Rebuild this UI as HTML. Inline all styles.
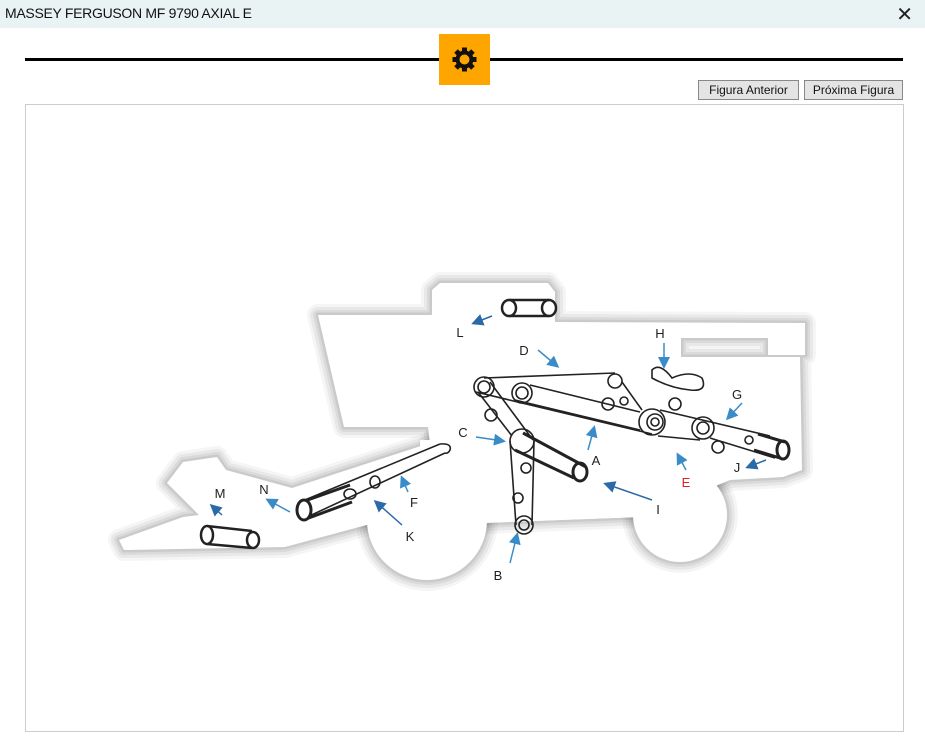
<!DOCTYPE html>
<html><head><style>
body{margin:0;width:925px;height:752px;background:#fff;font-family:"Liberation Sans",sans-serif;position:relative;overflow:hidden}
.tb{position:absolute;left:0;top:0;width:925px;height:28px;background:#eaf3f3}
.tt{position:absolute;left:5px;top:5px;font-size:14px;color:#111;letter-spacing:-0.3px}
.x{position:absolute;right:12px;top:2px;font-size:20px;color:#222}
.ln{position:absolute;left:25px;top:58px;width:878px;height:3px;background:#000}
.og{position:absolute;left:439px;top:34px;width:51px;height:51px;background:#ffa500}
.btn{position:absolute;top:80px;height:18px;border:1px solid #888;background:#e4e4e4;font-size:12px;line-height:18px;text-align:center;color:#111}
.fr{position:absolute;left:25px;top:104px;width:877px;height:626px;border:1px solid #ccc}
svg{position:absolute;left:0;top:0}
</style></head><body>
<div class="tb"><div class="tt">MASSEY FERGUSON MF 9790 AXIAL E</div><div class="x">✕</div></div>
<div class="ln"></div>
<div class="og"><svg width="51" height="51" viewBox="0 0 51 51"><g transform="translate(25.5,25.5)" fill="#111"><g id="t"><rect x="-2.5" y="-12" width="5" height="5"/></g><use href="#t" transform="rotate(45)"/><use href="#t" transform="rotate(90)"/><use href="#t" transform="rotate(135)"/><use href="#t" transform="rotate(180)"/><use href="#t" transform="rotate(225)"/><use href="#t" transform="rotate(270)"/><use href="#t" transform="rotate(315)"/><circle r="9"/><circle r="5" fill="#ffa500"/></g></svg></div>
<div class="btn" style="left:698px;width:99px">Figura Anterior</div>
<div class="btn" style="left:804px;width:97px">Próxima Figura</div>
<div class="fr"></div>
<svg width="925" height="752">
<defs>
<g id="sil">
<polygon points="318,315 432,315 432,290 440,283 548,283 555,292 555,322 805,323 805,355 768,355 768,338 681,338 681,357 800,357 802,470 783,477 730,480 640,517 483,523 430,443 428,427 344,427"/>
<circle cx="427" cy="520" r="60"/>
<circle cx="680" cy="515" r="47"/>
<polygon points="183,462 217,457 226,470 292,488 430,443 440,455 374,523 285,547 124,550 119,540 183,517 199,515 167,483"/>
</g>
<marker id="ar" markerWidth="8" markerHeight="8" refX="6" refY="4" orient="auto"><path d="M0,0 L8,4 L0,8 Z" fill="#3a8cc8"/></marker>
<marker id="ad" markerWidth="8" markerHeight="8" refX="6" refY="4" orient="auto"><path d="M0,0 L8,4 L0,8 Z" fill="#2a6aa8"/></marker></defs>
<g fill="none" stroke="#000" stroke-linejoin="round">
<use href="#sil" stroke-width="22" stroke-opacity="0.04"/>
<use href="#sil" stroke-width="16" stroke-opacity="0.05"/>
<use href="#sil" stroke-width="10" stroke-opacity="0.06"/>
<use href="#sil" stroke-width="5" stroke-opacity="0.07"/>
</g>
<use href="#sil" fill="#fff"/>
<polygon points="420,440 640,440 640,517 483,523 420,470" fill="#fff"/>
<g fill="none" stroke="#222" stroke-width="1.6">
<line x1="509" y1="300" x2="549" y2="300" stroke-width="2.5"/><line x1="509" y1="316" x2="549" y2="316" stroke-width="2.5"/>
<ellipse cx="509" cy="308" rx="7" ry="8" fill="#fff" stroke-width="2.5"/><ellipse cx="549" cy="308" rx="7" ry="8" stroke-width="2.5"/>
<line x1="484" y1="378" x2="615" y2="373"/><line x1="476" y1="392" x2="652" y2="434"/>
<line x1="515" y1="400" x2="640" y2="430"/><line x1="530" y1="385" x2="640" y2="412"/>
<line x1="622" y1="382" x2="642" y2="410"/>
<circle cx="484" cy="387" r="10"/><circle cx="484" cy="387" r="6"/>
<circle cx="522" cy="393" r="10"/><circle cx="522" cy="393" r="6"/>
<circle cx="615" cy="381" r="7"/><circle cx="608" cy="404" r="6"/><circle cx="624" cy="401" r="4"/>
<circle cx="652" cy="422" r="13"/><circle cx="655" cy="422" r="8"/><circle cx="655" cy="422" r="4"/>
<circle cx="703" cy="428" r="11"/><circle cx="703" cy="428" r="6"/>
<line x1="660" y1="410" x2="770" y2="436"/><line x1="658" y1="436" x2="700" y2="440"/><line x1="710" y1="438" x2="775" y2="458"/>
<line x1="758" y1="434" x2="785" y2="442" stroke-width="3"/><line x1="754" y1="450" x2="780" y2="458" stroke-width="3"/>
<ellipse cx="783" cy="450" rx="6" ry="9" stroke-width="3"/>
<circle cx="749" cy="440" r="4"/><circle cx="718" cy="447" r="6"/><circle cx="675" cy="404" r="6"/><circle cx="491" cy="415" r="6"/>
<path d="M652,370 Q660,362 672,378 Q690,370 702,378 Q708,392 690,390 Q670,388 652,378 Z"/>
<line x1="478" y1="392" x2="512" y2="436"/><line x1="490" y1="382" x2="533" y2="440"/>
<line x1="523" y1="433" x2="586" y2="467" stroke-width="3"/><line x1="515" y1="450" x2="574" y2="478" stroke-width="3"/>
<ellipse cx="580" cy="472" rx="7" ry="9" stroke-width="3"/>
<circle cx="522" cy="441" r="12"/>
<line x1="510" y1="441" x2="516" y2="525"/><line x1="534" y1="441" x2="532" y2="525"/>
<circle cx="524" cy="525" r="9"/><circle cx="524" cy="525" r="5"/>
<circle cx="526" cy="468" r="5"/><circle cx="518" cy="498" r="5"/>
<line x1="300" y1="502" x2="440" y2="444"/><line x1="305" y1="518" x2="445" y2="453"/>
<path d="M440,444 Q452,443 450,450 Q448,454 445,453"/>
<line x1="302" y1="502" x2="350" y2="485" stroke-width="3"/><line x1="306" y1="519" x2="352" y2="502" stroke-width="3"/>
<ellipse cx="304" cy="510" rx="7" ry="10" fill="#fff" stroke-width="3"/>
<ellipse cx="350" cy="494" rx="6" ry="5"/><ellipse cx="375" cy="482" rx="5" ry="6"/>
<line x1="207" y1="526" x2="252" y2="531" stroke-width="2.5"/><line x1="207" y1="544" x2="252" y2="548" stroke-width="2.5"/>
<ellipse cx="207" cy="535" rx="6" ry="9" fill="#fff" stroke-width="2.5"/><ellipse cx="253" cy="540" rx="6" ry="8" stroke-width="2.5"/>
</g>
<g stroke="#3a8cc8" stroke-width="1.5" marker-end="url(#ar)">
<line x1="492" y1="316" x2="474" y2="323" stroke="#2a6aa8" marker-end="url(#ad)"/>
<line x1="538" y1="350" x2="557" y2="366"/>
<line x1="476" y1="437" x2="503" y2="441"/>
<line x1="510" y1="563" x2="517" y2="535"/>
<line x1="652" y1="500" x2="606" y2="484" stroke="#2a6aa8" marker-end="url(#ad)"/>
<line x1="686" y1="470" x2="678" y2="455"/>
<line x1="742" y1="403" x2="728" y2="418"/>
<line x1="664" y1="343" x2="664" y2="366"/>
<line x1="766" y1="460" x2="748" y2="467" stroke="#2a6aa8" marker-end="url(#ad)"/>
<line x1="408" y1="492" x2="402" y2="478"/>
<line x1="402" y1="525" x2="376" y2="502" stroke="#2a6aa8" marker-end="url(#ad)"/>
<line x1="290" y1="512" x2="268" y2="500"/>
<line x1="222" y1="515" x2="212" y2="506" stroke="#2a6aa8" marker-end="url(#ad)"/>
<line x1="588" y1="450" x2="594" y2="428"/>
</g>
<g font-size="13" fill="#222" text-anchor="middle">
<text x="460" y="337">L</text><text x="524" y="355">D</text><text x="463" y="437">C</text><text x="596" y="465">A</text>
<text x="498" y="580">B</text><text x="658" y="514">I</text><text x="686" y="487" fill="#e02020">E</text><text x="737" y="399">G</text>
<text x="660" y="338">H</text><text x="737" y="472">J</text><text x="414" y="507">F</text><text x="410" y="541">K</text>
<text x="264" y="494">N</text><text x="220" y="498">M</text>
</g>
</svg>
</body></html>
